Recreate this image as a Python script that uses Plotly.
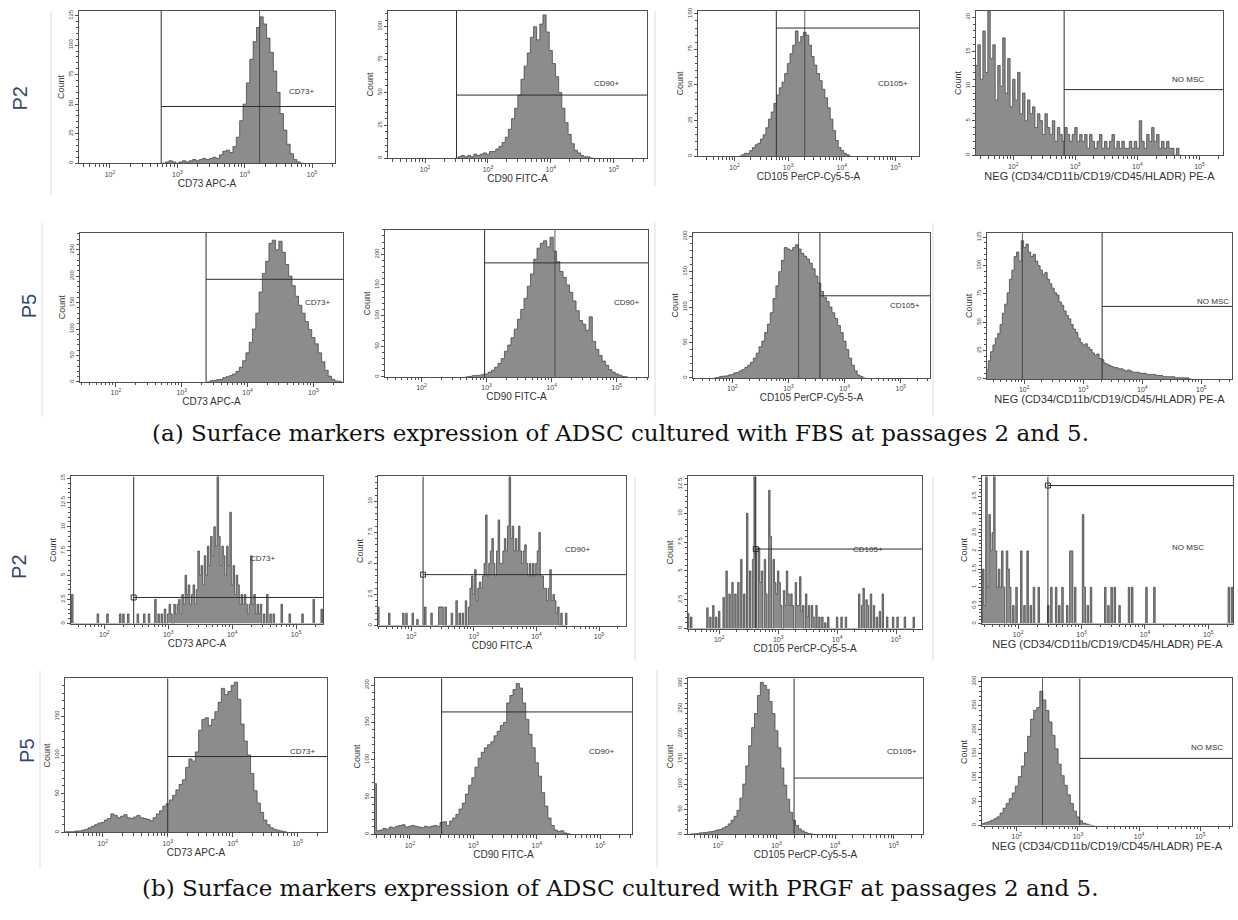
import plotly.graph_objects as go

W, H = 1238, 920

# ---------------- histogram data (log10 fluorescence, counts) ----------------
# FBS, passage 2
fbs_p2_cd73_start, fbs_p2_cd73_step = 2.80, 0.05
fbs_p2_cd73_counts = [0, 1, 2, 1, 0, 1, 2, 1, 2, 3, 2, 3, 4, 3, 4, 5, 4, 7, 10, 11, 9, 14, 22, 36, 50, 68,
                      88, 103, 115, 124, 118, 106, 94, 78, 60, 42, 28, 16, 8, 3, 1, 0]
fbs_p2_cd73_spikes = ([4.22], [135])

fbs_p2_cd90_start, fbs_p2_cd90_step = 2.50, 0.05
fbs_p2_cd90_counts = [0, 1, 2, 1, 2, 1, 3, 2, 3, 4, 3, 5, 5, 7, 9, 12, 16, 22, 30, 38, 48, 60, 70, 80, 92,
                      100, 90, 102, 109, 96, 82, 72, 62, 50, 38, 27, 18, 11, 6, 4, 2, 1, 1, 0]
fbs_p2_cd90_spikes = ([], [])

fbs_p2_cd105_start, fbs_p2_cd105_step = 2.11, 0.05
fbs_p2_cd105_counts = [0, 1, 2, 2, 4, 6, 8, 9, 12, 15, 20, 26, 31, 37, 43, 48, 52, 58, 65, 72, 78, 88, 80,
                       84, 87, 85, 78, 70, 64, 58, 53, 47, 41, 34, 26, 18, 11, 6, 4, 2, 1, 0]
fbs_p2_cd105_spikes = ([3.31], [110])

fbs_p2_neg_start, fbs_p2_neg_step = 1.41, 0.04
fbs_p2_neg_counts = [13, 16, 11, 18, 12, 22, 14, 16, 8, 13, 10, 17, 9, 14, 7, 11, 8, 12, 6, 9, 5, 8, 6, 7, 4,
                     6, 5, 3, 6, 4, 3, 5, 2, 4, 3, 2, 4, 3, 2, 3, 4, 2, 3, 2, 3, 1, 3, 2, 1, 2, 3, 1, 2, 1,
                     2, 3, 1, 2, 1, 2, 1, 1, 2, 1, 2, 1, 5, 2, 1, 3, 2, 4, 2, 3, 1, 2, 1, 2, 1, 1, 0, 1, 0]
fbs_p2_neg_spikes = ([], [])

# FBS, passage 5
fbs_p5_cd73_start, fbs_p5_cd73_step = 3.40, 0.05
fbs_p5_cd73_counts = [0, 2, 3, 4, 5, 8, 10, 12, 15, 20, 28, 40, 55, 75, 100, 130, 170, 205, 228, 262, 268,
                      250, 266, 245, 222, 200, 182, 162, 145, 130, 114, 99, 84, 72, 55, 38, 22, 11, 5, 2, 1]
fbs_p5_cd73_spikes = ([], [])

fbs_p5_cd90_start, fbs_p5_cd90_step = 2.70, 0.05
fbs_p5_cd90_counts = [0, 1, 2, 2, 3, 4, 5, 8, 11, 16, 22, 30, 42, 52, 64, 78, 94, 110, 128, 148, 168, 192,
                      210, 218, 222, 212, 228, 205, 188, 172, 162, 150, 138, 124, 108, 92, 86, 76, 98, 58,
                      45, 35, 26, 19, 12, 8, 5, 3, 1, 0]
fbs_p5_cd90_spikes = ([4.05], [245])

fbs_p5_cd105_start, fbs_p5_cd105_step = 1.70, 0.05
fbs_p5_cd105_counts = [0, 1, 2, 2, 3, 4, 5, 7, 8, 10, 12, 15, 18, 22, 28, 35, 44, 52, 64, 76, 92, 112, 130,
                       150, 166, 184, 182, 180, 184, 188, 182, 176, 172, 168, 162, 154, 144, 134, 122, 114,
                       108, 100, 92, 84, 74, 64, 52, 40, 28, 18, 10, 4, 2, 0]
fbs_p5_cd105_spikes = ([3.18], [210])

fbs_p5_neg_start, fbs_p5_neg_step = 1.37, 0.04
fbs_p5_neg_counts = [8, 16, 24, 30, 36, 40, 48, 58, 66, 76, 88, 96, 108, 112, 104, 122, 116, 119, 112, 108,
                     110, 104, 100, 96, 92, 94, 88, 84, 80, 76, 74, 68, 65, 60, 56, 53, 48, 44, 41, 36, 32,
                     30, 31, 28, 26, 23, 21, 22, 18, 17, 14, 13, 12, 11, 10, 10, 9, 9, 8, 7, 8, 7, 6, 6, 6,
                     5, 5, 5, 4, 4, 4, 4, 3, 3, 3, 2, 2, 2, 2, 2, 1, 1, 1, 1, 1, 1, 0]
fbs_p5_neg_spikes = ([1.97], [130])

# PRGF, passage 2 (sparse events: bin centre, count)
prgf_p2_step = 0.025
prgf_p2_cd73_logs = [1.500, 1.900, 2.050, 2.250, 2.300, 2.375, 2.525, 2.625, 2.700, 2.800, 2.850, 2.900,
                     2.950, 3.000, 3.025, 3.050, 3.100, 3.125, 3.150, 3.175, 3.200, 3.225, 3.250, 3.275,
                     3.300, 3.325, 3.350, 3.375, 3.400, 3.425, 3.450, 3.475, 3.500, 3.525, 3.550, 3.575,
                     3.600, 3.625, 3.650, 3.675, 3.700, 3.725, 3.750, 3.775, 3.800, 3.825, 3.850, 3.875,
                     3.900, 3.925, 3.950, 3.975, 4.000, 4.025, 4.050, 4.075, 4.100, 4.125, 4.150, 4.175,
                     4.200, 4.225, 4.250, 4.275, 4.300, 4.325, 4.350, 4.375, 4.400, 4.425, 4.450, 4.500,
                     4.550, 4.600, 4.650, 4.775, 4.900, 5.100, 5.275, 5.400]
prgf_p2_cd73_counts = [3, 1, 1, 1, 1, 1, 1, 1, 1, 2.5, 1, 1, 1.5, 1, 2, 1, 2, 1, 2, 2.5, 1, 3, 2, 5, 3, 4,
                       2, 3, 4, 2, 3.5, 7.5, 5, 6, 4, 7, 5, 8, 6, 9, 7, 10, 8, 16, 9, 6, 8, 7, 5, 8, 6,
                       11.5, 4, 6, 3, 5, 4, 2, 3, 2, 3, 2, 1, 2, 7, 2, 3, 1, 2, 1, 2, 1, 3, 1, 1, 2, 1, 1,
                       2.5, 1.5]

prgf_p2_cd90_logs = [1.475, 1.650, 1.875, 1.925, 2.025, 2.100, 2.225, 2.325, 2.450, 2.475, 2.500, 2.550,
                     2.650, 2.725, 2.775, 2.825, 2.875, 2.925, 2.950, 2.975, 3.000, 3.025, 3.050, 3.075,
                     3.100, 3.125, 3.150, 3.175, 3.200, 3.225, 3.250, 3.275, 3.300, 3.325, 3.350, 3.375,
                     3.400, 3.425, 3.450, 3.475, 3.500, 3.525, 3.550, 3.575, 3.600, 3.625, 3.650, 3.675,
                     3.700, 3.725, 3.750, 3.775, 3.800, 3.825, 3.850, 3.875, 3.900, 3.925, 3.950, 3.975,
                     4.000, 4.025, 4.050, 4.075, 4.100, 4.125, 4.150, 4.175, 4.200, 4.225, 4.250, 4.275,
                     4.300, 4.325, 4.350, 4.400, 4.475]
prgf_p2_cd90_counts = [1.5, 1, 1, 1, 1, 0.5, 1.5, 1, 1.5, 1.5, 1.5, 1.5, 1, 2, 1, 1, 2, 1.5, 3, 4, 2.5, 4.5,
                       2, 3, 3.5, 3, 4, 5, 8.9, 4, 5, 6, 7, 5, 4, 6, 8.5, 5, 5, 6, 7, 6, 8, 12.5, 7, 8, 6,
                       7, 6, 8, 6, 5, 6, 6.5, 5, 4, 5, 4, 5, 4, 5, 6, 7.5, 4, 4, 3, 3, 2, 3, 4.5, 2, 2.5,
                       2, 1, 1.5, 1, 1]

prgf_p2_cd105_logs = [1.475, 1.525, 1.800, 1.850, 1.900, 1.950, 2.000, 2.075, 2.125, 2.175, 2.225, 2.275,
                      2.325, 2.375, 2.425, 2.475, 2.525, 2.575, 2.600, 2.625, 2.675, 2.700, 2.725, 2.775,
                      2.800, 2.850, 2.875, 2.925, 2.950, 2.975, 3.000, 3.025, 3.050, 3.100, 3.125, 3.150,
                      3.175, 3.200, 3.225, 3.250, 3.300, 3.325, 3.350, 3.375, 3.400, 3.425, 3.475, 3.500,
                      3.525, 3.575, 3.600, 3.650, 3.700, 3.750, 3.800, 3.850, 4.000, 4.075, 4.150, 4.375,
                      4.425, 4.450, 4.500, 4.525, 4.575, 4.625, 4.675, 4.725, 4.775, 4.850, 4.950, 5.025,
                      5.150, 5.300]
prgf_p2_cd105_counts = [1.3, 1, 1.8, 1, 2, 1, 1.5, 2.7, 5, 3, 4, 3, 4, 6, 3, 10, 5, 6, 14, 7, 7, 4, 5, 6,
                        3, 12, 8, 6, 4, 3, 5, 4, 2, 3.3, 2, 5, 3, 2, 3, 2, 4, 2, 2, 4.5, 1.5, 2, 3, 1, 2,
                        2, 1, 2, 1, 1, 0.5, 1, 1, 1, 1, 3, 2, 3.5, 2.5, 2, 3, 2, 1, 1.5, 3, 1, 1, 1, 1, 1]

prgf_p2_neg_logs = [1.450, 1.475, 1.500, 1.525, 1.550, 1.575, 1.600, 1.625, 1.650, 1.675, 1.700, 1.725,
                    1.750, 1.775, 1.825, 1.850, 1.875, 1.925, 1.975, 2.050, 2.100, 2.150, 2.200, 2.250,
                    2.325, 2.475, 2.525, 2.600, 2.650, 2.700, 2.775, 2.825, 2.850, 2.900, 3.025, 3.050,
                    3.100, 3.150, 3.375, 3.425, 3.475, 3.525, 3.600, 3.750, 3.800, 4.025, 4.150, 5.325,
                    5.375]
prgf_p2_neg_counts = [1.5, 0.5, 4.2, 1, 3, 2, 2.5, 4.2, 2, 1, 1.5, 1, 2, 1, 2, 1.5, 1, 0.5, 1, 2, 0.5, 2,
                      0.5, 1, 1, 0.5, 1, 1, 0.5, 1, 0.5, 2, 2, 1, 3, 1, 0.5, 1, 1, 0.5, 1, 1, 0.5, 1, 1,
                      1, 1, 1, 1]

# PRGF, passage 5
prgf_p5_cd73_start, prgf_p5_cd73_step = 1.45, 0.05
prgf_p5_cd73_counts = [1, 1, 1, 2, 2, 3, 4, 6, 8, 10, 12, 13, 16, 18, 24, 22, 19, 21, 23, 19, 18, 20, 22,
                       19, 18, 17, 15, 19, 24, 28, 34, 37, 42, 48, 55, 62, 68, 84, 95, 92, 104, 132, 146,
                       148, 138, 146, 156, 168, 186, 178, 182, 190, 194, 172, 140, 118, 100, 76, 54, 38,
                       26, 16, 10, 6, 4, 3, 2, 1, 0]
prgf_p5_cd73_spikes = ([], [])

prgf_p5_cd90_start, prgf_p5_cd90_step = 1.45, 0.05
prgf_p5_cd90_counts = [68, 5, 6, 8, 7, 10, 9, 11, 12, 13, 10, 11, 12, 11, 10, 9, 11, 10, 11, 12, 11, 16, 17,
                       12, 18, 22, 27, 34, 42, 54, 66, 76, 90, 102, 110, 116, 120, 124, 132, 138, 146, 150,
                       176, 186, 194, 202, 196, 176, 154, 134, 116, 96, 78, 56, 38, 22, 12, 6, 4, 5, 2, 1, 0]
prgf_p5_cd90_spikes = ([], [])

prgf_p5_cd105_start, prgf_p5_cd105_step = 1.55, 0.05
prgf_p5_cd105_counts = [1, 1, 2, 3, 3, 4, 5, 6, 7, 9, 10, 13, 16, 21, 28, 36, 48, 72, 100, 136, 176, 212,
                        240, 276, 302, 296, 288, 264, 240, 206, 172, 132, 98, 70, 44, 28, 18, 11, 7, 4, 2,
                        1, 0]
prgf_p5_cd105_spikes = ([], [])

prgf_p5_neg_start, prgf_p5_neg_step = 1.45, 0.05
prgf_p5_neg_counts = [4, 6, 8, 11, 14, 18, 26, 36, 46, 56, 68, 82, 102, 124, 152, 186, 222, 240, 246, 280,
                      262, 240, 216, 188, 160, 128, 104, 84, 64, 46, 30, 18, 10, 5, 3, 1, 0]
prgf_p5_neg_spikes = ([2.42], [310])

# gate thresholds (log10) and marker line levels (counts), per row: CD73, CD90, CD105, NEG
fbs_p2_gates, fbs_p2_levels = [2.76, 2.50, 2.78, 2.82], [48, 48, 90, 9.5]
fbs_p5_gates, fbs_p5_levels = [3.37, 2.97, 3.56, 3.32], [194, 186, 116, 64]
prgf_p2_gates, prgf_p2_levels = [2.46, 2.19, 2.62, 2.47], [2.7, 4.1, 6.9, 3.8]
prgf_p5_gates, prgf_p5_levels = [3.00, 2.50, 3.30, 3.03], [98, 164, 112, 140]

gate_names = ["CD73+", "CD90+", "CD105+", "NO MSC"]
axis_titles = ["CD73 APC-A", "CD90 FITC-A", "CD105 PerCP-Cy5-5-A", "NEG (CD34/CD11b/CD19/CD45/HLADR) PE-A"]
decade_vals = [1e2, 1e3, 1e4, 1e5]
decade_text = ["10<sup>2</sup>", "10<sup>3</sup>", "10<sup>4</sup>", "10<sup>5</sup>"]
row_labels = ["P2", "P5", "P2", "P5"]
captions = ["(a) Surface markers expression of ADSC cultured with FBS at passages 2 and 5.",
            "(b) Surface markers expression of ADSC cultured with PRGF at passages 2 and 5."]


def dense(start, step, counts):
    return [start + i * step for i in range(len(counts))], counts, step


hist = [
    dense(fbs_p2_cd73_start, fbs_p2_cd73_step, fbs_p2_cd73_counts),
    dense(fbs_p2_cd90_start, fbs_p2_cd90_step, fbs_p2_cd90_counts),
    dense(fbs_p2_cd105_start, fbs_p2_cd105_step, fbs_p2_cd105_counts),
    dense(fbs_p2_neg_start, fbs_p2_neg_step, fbs_p2_neg_counts),
    dense(fbs_p5_cd73_start, fbs_p5_cd73_step, fbs_p5_cd73_counts),
    dense(fbs_p5_cd90_start, fbs_p5_cd90_step, fbs_p5_cd90_counts),
    dense(fbs_p5_cd105_start, fbs_p5_cd105_step, fbs_p5_cd105_counts),
    dense(fbs_p5_neg_start, fbs_p5_neg_step, fbs_p5_neg_counts),
    (prgf_p2_cd73_logs, prgf_p2_cd73_counts, prgf_p2_step),
    (prgf_p2_cd90_logs, prgf_p2_cd90_counts, prgf_p2_step),
    (prgf_p2_cd105_logs, prgf_p2_cd105_counts, prgf_p2_step),
    (prgf_p2_neg_logs, prgf_p2_neg_counts, prgf_p2_step),
    dense(prgf_p5_cd73_start, prgf_p5_cd73_step, prgf_p5_cd73_counts),
    dense(prgf_p5_cd90_start, prgf_p5_cd90_step, prgf_p5_cd90_counts),
    dense(prgf_p5_cd105_start, prgf_p5_cd105_step, prgf_p5_cd105_counts),
    dense(prgf_p5_neg_start, prgf_p5_neg_step, prgf_p5_neg_counts),
]
spikes = [fbs_p2_cd73_spikes, fbs_p2_cd90_spikes, fbs_p2_cd105_spikes, fbs_p2_neg_spikes,
          fbs_p5_cd73_spikes, fbs_p5_cd90_spikes, fbs_p5_cd105_spikes, fbs_p5_neg_spikes,
          ([], []), ([], []), ([], []), ([], []),
          prgf_p5_cd73_spikes, prgf_p5_cd90_spikes, prgf_p5_cd105_spikes, prgf_p5_neg_spikes]
gates = fbs_p2_gates + fbs_p5_gates + prgf_p2_gates + prgf_p5_gates
levels = fbs_p2_levels + fbs_p5_levels + prgf_p2_levels + prgf_p5_levels

# ---------------- panel layout (pixel boxes, axis ranges, label placement) ----------------
# box: left, right, top, bottom in page pixels
boxes = [
    (79, 335, 7, 160), (388, 647, 7, 155), (698, 919, 7, 153), (976, 1223, 7, 152),
    (80, 343, 230, 380), (385, 648, 227, 375), (693, 930, 230, 376), (987, 1232, 230, 377),
    (71, 323, 475, 623), (378, 626, 475, 625), (688, 922, 475, 628), (982, 1233, 475, 623),
    (65, 327, 678, 833), (375, 632, 678, 835), (688, 923, 678, 835), (982, 1232, 678, 826),
]
xranges = [
    (1.54, 5.34), (1.41, 5.53), (1.32, 5.44), (1.40, 5.38),
    (1.455, 5.45), (1.44, 5.48), (1.30, 5.52), (1.37, 5.52),
    (1.48, 5.42), (1.47, 5.43), (1.47, 5.44), (1.43, 5.39),
    (1.42, 5.45), (1.45, 5.50), (1.49, 5.50), (1.43, 5.52),
]
ytops = [129, 112, 102, 20.9, 282, 240, 205, 129, 15.2, 12, 13.2, 4.05, 199, 209, 310, 307]
ymajor = [25, 25, 25, 5, 50, 50, 50, 25, 2.5, 2.5, 2.5, 0.5, 50, 50, 50, 50]
label_pos = [
    (4.85, 61), (4.89, 57), (4.96, 51), (4.82, 10.9),
    (5.07, 150), (5.15, 122), (5.07, 103), (5.20, 68),
    (4.48, 6.7), (4.65, 6.1), (4.52, 6.9), (4.68, 2.1),
    (5.08, 105), (5.02, 111), (5.14, 164), (5.11, 163),
]
row_label_pos = [(20, 95), (29, 304), (19, 566), (27, 751)]
caption_y = [431, 889]
separators = [(51, 7, 192), (655, 7, 183), (42, 220, 415), (655, 220, 415), (933, 220, 415),
              (635, 475, 660), (933, 475, 660), (40, 670, 868), (657, 670, 868)]

INK = "#3a3a3a"
FRAME = "#505050"
FILL = "#8c8c8c"
SANS = "Liberation Sans, Arial, sans-serif"


def outline(logs, counts, width):
    xs, ys = [], []
    prev = None
    for l, c in zip(logs, counts):
        left, right = l - width / 2, l + width / 2
        if prev is None or left - prev > 1e-9:
            if prev is not None:
                xs.append(10 ** prev)
                ys.append(0)
            xs.append(10 ** left)
            ys.append(0)
        xs += [10 ** left, 10 ** right]
        ys += [c, c]
        prev = right
    xs.append(10 ** prev)
    ys.append(0)
    return xs, ys


def minor_decades(lo, hi):
    vals = []
    for d in range(1, 6):
        for k in range(2, 10):
            v = k * 10 ** d
            if 10 ** lo < v < 10 ** hi:
                vals.append(v)
    return vals


def fmt(v):
    return ("%g" % v)


fig = go.Figure()
annotations = []
shapes = []
layout_axes = {}

for i in range(16):
    n = i + 1
    xa = "x" if n == 1 else "x%d" % n
    ya = "y" if n == 1 else "y%d" % n
    col = i % 4
    left, right, top, bottom = boxes[i]
    lo, hi = xranges[i]
    ytop = ytops[i]

    logs, counts, width = hist[i]
    xs, ys = outline(logs, counts, width)
    fig.add_trace(go.Scatter(x=xs, y=ys, xaxis=xa, yaxis=ya, mode="lines", fill="tozeroy",
                             fillcolor=FILL, line=dict(color=INK, width=0.7), hoverinfo="skip"))

    sl, sc = spikes[i]
    if sl:
        sx, sy = [], []
        for l, c in zip(sl, sc):
            sx += [10 ** l, 10 ** l, None]
            sy += [0, c, None]
        fig.add_trace(go.Scatter(x=sx, y=sy, xaxis=xa, yaxis=ya, mode="lines",
                                 line=dict(color=INK, width=0.8), hoverinfo="skip"))

    g, lv = 10 ** gates[i], levels[i]
    fig.add_trace(go.Scatter(x=[g, g, None, g, 10 ** hi], y=[0, ytop, None, lv, lv], xaxis=xa, yaxis=ya,
                             mode="lines", line=dict(color="#2e2e2e", width=1), hoverinfo="skip"))
    if 8 <= i <= 11:
        fig.add_trace(go.Scatter(x=[g], y=[lv], xaxis=xa, yaxis=ya, mode="markers",
                                 marker=dict(symbol="square-open", size=5, color="#2e2e2e",
                                             line=dict(width=1)), hoverinfo="skip"))

    lx, ly = label_pos[i]
    annotations.append(dict(x=lx, y=ly, xref=xa, yref=ya, text=gate_names[col], showarrow=False,
                            font=dict(family=SANS, size=8, color="#333333")))

    step = ymajor[i]
    yt = []
    k = 0
    while k * step <= ytop + 1e-9:
        yt.append(k * step)
        k += 1
    if i == 12:
        yt = [0, 50, 100, 150]

    layout_axes["xaxis" if n == 1 else "xaxis%d" % n] = dict(
        type="log", range=[lo, hi], domain=[left / W, right / W], anchor=ya,
        showline=True, mirror=True, linecolor=FRAME, linewidth=1, showgrid=False, zeroline=False,
        ticks="outside", ticklen=4, tickcolor=FRAME, tickvals=decade_vals, ticktext=decade_text,
        tickfont=dict(family=SANS, size=7, color="#444444"),
        minor=dict(tickvals=minor_decades(lo, hi), ticks="outside", ticklen=2.5, tickcolor=FRAME,
                   showgrid=False),
        title=dict(text=axis_titles[col], standoff=2,
                   font=dict(family=SANS, size=11 if col == 3 else 10, color="#333333")),
    )
    layout_axes["yaxis" if n == 1 else "yaxis%d" % n] = dict(
        range=[0, ytop], domain=[1 - bottom / H, 1 - top / H], anchor=xa,
        showline=True, mirror=True, linecolor=FRAME, linewidth=1, showgrid=False, zeroline=False,
        ticks="outside", ticklen=3, tickcolor=FRAME, tickvals=yt, ticktext=[fmt(v) for v in yt],
        tickangle=-90, tickfont=dict(family=SANS, size=6, color="#444444"),
        minor=dict(tick0=0, dtick=step / 5, ticks="outside", ticklen=2, tickcolor=FRAME, showgrid=False),
        title=dict(text="Count", standoff=1, font=dict(family=SANS, size=9, color="#333333")),
    )

for (px, py), txt in zip(row_label_pos, row_labels):
    annotations.append(dict(x=px / W, y=1 - py / H, xref="paper", yref="paper", text=txt, textangle=-90,
                            xanchor="center", yanchor="middle", showarrow=False,
                            font=dict(family=SANS, size=20, color="#34466e")))

for cy, txt in zip(caption_y, captions):
    annotations.append(dict(x=620 / W, y=1 - cy / H, xref="paper", yref="paper", text=txt,
                            xanchor="center", yanchor="middle", showarrow=False,
                            font=dict(family="DejaVu Serif, serif", size=23, color="#111111")))

for sx, y0, y1 in separators:
    shapes.append(dict(type="line", xref="paper", yref="paper", x0=sx / W, x1=sx / W,
                       y0=1 - y0 / H, y1=1 - y1 / H, line=dict(color="#dddddd", width=1)))

fig.update_layout(width=W, height=H, margin=dict(l=0, r=0, t=0, b=0), showlegend=False,
                  plot_bgcolor="white", paper_bgcolor="white", annotations=annotations, shapes=shapes,
                  **layout_axes)

fig.write_html("out.html")
